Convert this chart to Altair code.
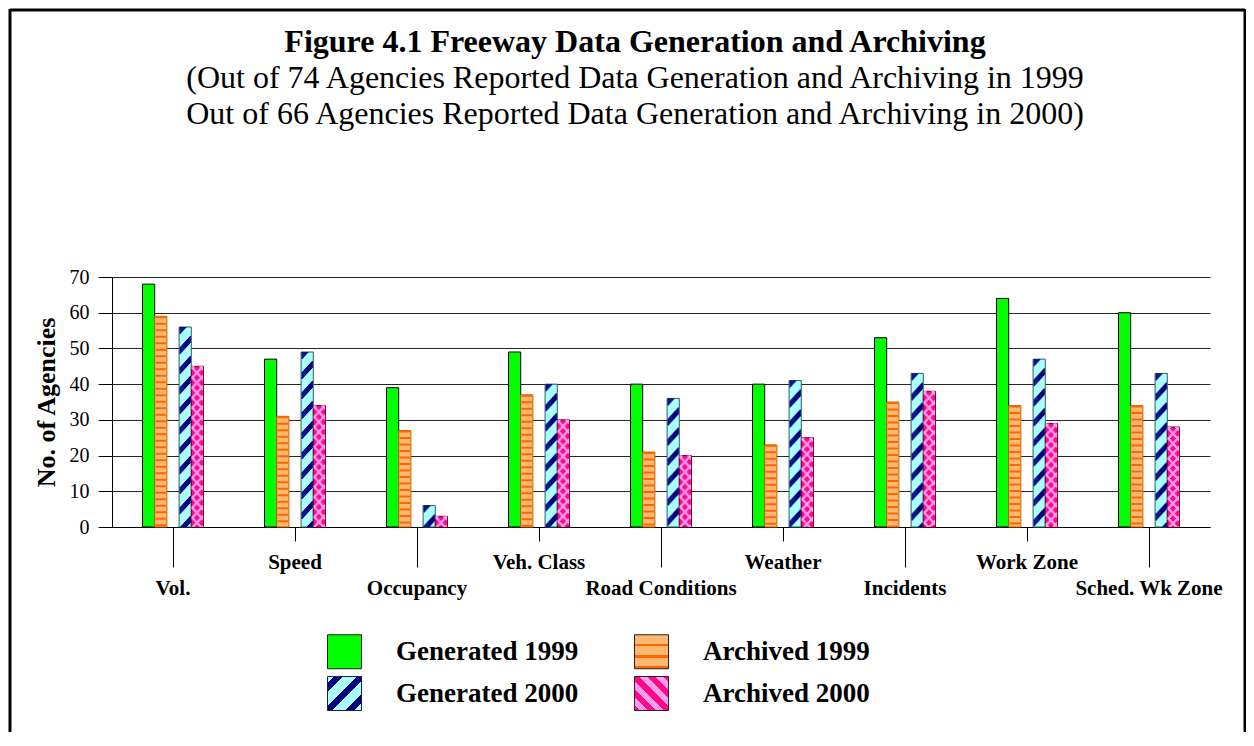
import altair as alt
import pandas as pd

categories = ["Vol.", "Speed", "Occupancy", "Veh. Class", "Road Conditions",
              "Weather", "Incidents", "Work Zone", "Sched. Wk Zone"]
generated_1999 = [68, 47, 39, 49, 40, 40, 53, 64, 60]
archived_1999 = [59, 31, 27, 37, 21, 23, 35, 34, 34]
generated_2000 = [56, 49, 6, 40, 36, 41, 43, 47, 43]
archived_2000 = [45, 34, 3, 30, 20, 25, 38, 29, 28]
series_names = ["Generated 1999", "Archived 1999", "Generated 2000", "Archived 2000"]
y_ticks = [0, 10, 20, 30, 40, 50, 60, 70]
lower_row_labels = ["Vol.", "Occupancy", "Road Conditions", "Incidents", "Sched. Wk Zone"]
title_text = "Figure 4.1 Freeway Data Generation and Archiving"
subtitle_lines = ["(Out of 74 Agencies Reported Data Generation and Archiving in 1999",
                  "Out of 66 Agencies Reported Data Generation and Archiving in 2000)"]

series_values = [generated_1999, archived_1999, generated_2000, archived_2000]
rows = []
for ci, cat in enumerate(categories):
    for sname, vals in zip(series_names, series_values):
        rows.append({"Category": cat, "Series": sname, "Agencies": vals[ci]})
df = pd.DataFrame(rows)

slot_domain = ["Generated 1999", "Archived 1999", "gap", "Generated 2000", "Archived 2000"]
fill_colors = ["#00FF00", "#FFB870", "#AAFFFF", "#FF0A84"]
stroke_colors = ["#000000", "#C86400", "#2F5F5F", "#6A0030"]

FONT = "Liberation Serif"
W, H = 1098, 250

low_js = "[" + ",".join("'" + c + "'" for c in lower_row_labels) + "]"

x_scale = alt.Scale(type="band", domain=categories, paddingInner=0.5, paddingOuter=0.25)
y_scale = alt.Scale(domain=[0, 70], nice=False)

x_axis = alt.Axis(
    title=None, labelAngle=0, labelFont=FONT, labelFontSize=21, labelFontWeight="bold",
    labelColor="black", labelPadding=10, labelBaseline="top",
    labelOverlap=False, labelBound=False, labelLimit=400,
    domainColor="black", tickColor="black",
    tickSize={"condition": {"test": "indexof(" + low_js + ", datum.value) >= 0", "value": 40}, "value": 14},
    grid=False,
)
y_axis = alt.Axis(
    values=y_ticks, title="No. of Agencies", titleFont=FONT, titleFontSize=26,
    titleFontWeight="bold", titleColor="black", titlePadding=10,
    labelFont=FONT, labelFontSize=20, labelColor="black", labelPadding=9,
    tickSize=14, tickColor="black", domainColor="black",
    grid=True, gridColor="black", gridOpacity=0.85,
)


def hard_gradient(x1, y1, x2, y2, base, band_color, bands):
    stops = ["{offset:0,color:'%s'}" % base]
    for a, b in bands:
        stops += ["{offset:%g,color:'%s'}" % (a, base), "{offset:%g,color:'%s'}" % (a, band_color),
                  "{offset:%g,color:'%s'}" % (b, band_color), "{offset:%g,color:'%s'}" % (b, base)]
    stops.append("{offset:1,color:'%s'}" % base)
    return alt.ExprRef(expr="{gradient:'linear',x1:%g,y1:%g,x2:%g,y2:%g,stops:[%s]}"
                       % (x1, y1, x2, y2, ",".join(stops)))


legend_fills = [
    "#00FF00",
    hard_gradient(0, 0, 0, 1, "#FFB870", "#FF6600", [(0.26, 0.34), (0.60, 0.68), (0.92, 1.0)]),
    hard_gradient(0, 0, 1, 1, "#AAFFFF", "#000080", [(0.10, 0.23), (0.43, 0.56), (0.76, 0.89)]),
    hard_gradient(1, 0, 0, 1, "#FF0A84", "#FF9CF0", [(0.08, 0.2), (0.32, 0.44), (0.56, 0.68), (0.80, 0.92)]),
]

bars = alt.Chart(df).mark_bar(strokeWidth=1).encode(
    x=alt.X("Category:N", sort=categories, scale=x_scale, axis=x_axis),
    xOffset=alt.XOffset("Series:N", scale=alt.Scale(domain=slot_domain, paddingInner=0, paddingOuter=0)),
    y=alt.Y("Agencies:Q", scale=y_scale, axis=y_axis),
    fill=alt.Fill("Series:N", scale=alt.Scale(domain=series_names, range=fill_colors), legend=None),
    stroke=alt.Stroke("Series:N", scale=alt.Scale(domain=series_names, range=stroke_colors), legend=None),
)

legend_layer = alt.Chart(df).mark_square(opacity=0).encode(
    fill=alt.Fill("Series:N", scale=alt.Scale(domain=series_names, range=legend_fills),
                  legend=alt.Legend(
                      title=None, orient="none", legendX=215, legendY=357, columns=2,
                      direction="horizontal",
                      symbolType="square", symbolSize=1156, symbolStrokeColor="#222222",
                      symbolStrokeWidth=1, symbolOpacity=1, labelFont=FONT, labelFontSize=27,
                      labelFontWeight="bold", labelColor="black", labelOffset=34,
                      labelLimit=400, columnPadding=53, rowPadding=3, padding=0)),
)


def stripe(series, slot, frac, color, width, dash, offset):
    return alt.Chart(df).transform_filter(alt.datum.Series == series).mark_rule(
        color=color, strokeWidth=width, strokeDash=dash, strokeDashOffset=offset
    ).encode(
        x=alt.X("Category:N", sort=categories, scale=x_scale, axis=x_axis,
                bandPosition=(slot + frac) / 5.0),
        y=alt.Y("Agencies:Q", scale=y_scale, axis=y_axis),
        y2=alt.datum(0),
    )


layers = [bars]
# horizontal stripes, Archived 1999
layers.append(stripe("Archived 1999", 1, 0.5, "#FF6600", 10.5, [2, 4.5], 0))
# diagonal stripes, Generated 2000
N = 12
for i in range(N):
    frac = 0.05 + 0.9 * (i + 0.5) / N
    layers.append(stripe("Generated 2000", 3, frac, "#000080", 1.3, [7, 13], i * 1.0))
# cross weave, Archived 2000
for i in range(N):
    frac = 0.05 + 0.9 * (i + 0.5) / N
    layers.append(stripe("Archived 2000", 4, frac, "#FF9CF0", 1.3, [3, 7], i % 10))
    layers.append(stripe("Archived 2000", 4, frac, "#FF9CF0", 1.3, [3, 7], (10 - i % 10) % 10))

layers.append(legend_layer)

one = alt.Chart(pd.DataFrame({"k": [0]}))

# titles
layers.append(one.mark_text(text=title_text, font=FONT, fontSize=32, fontWeight="bold",
                            color="black", align="center", baseline="alphabetic").encode(
    x=alt.value(523), y=alt.value(-225)))
layers.append(one.mark_text(text=subtitle_lines[0], font=FONT, fontSize=32,
                            color="black", align="center", baseline="alphabetic").encode(
    x=alt.value(523), y=alt.value(-189)))
layers.append(one.mark_text(text=subtitle_lines[1], font=FONT, fontSize=32,
                            color="black", align="center", baseline="alphabetic").encode(
    x=alt.value(523), y=alt.value(-153)))

# outer frame of the figure
layers.append(one.mark_rule(color="black", strokeWidth=3).encode(
    x=alt.value(-102), y=alt.value(-268), y2=alt.value(460)))
layers.append(one.mark_rule(color="black", strokeWidth=3).encode(
    x=alt.value(-102), x2=alt.value(1133), y=alt.value(-267)))
layers.append(one.mark_rule(color="black", strokeWidth=3).encode(
    x=alt.value(1133), y=alt.value(-268), y2=alt.value(460)))

chart = alt.layer(*layers).resolve_scale(fill="independent").properties(
    width=W, height=H,
    autosize=alt.AutoSizeParams(type="none"),
    padding={"left": 104, "top": 269, "right": 36, "bottom": 205},
).configure(background="white").configure_view(stroke=None)

chart.save("out.html", embed_options={"renderer": "svg", "actions": False})
